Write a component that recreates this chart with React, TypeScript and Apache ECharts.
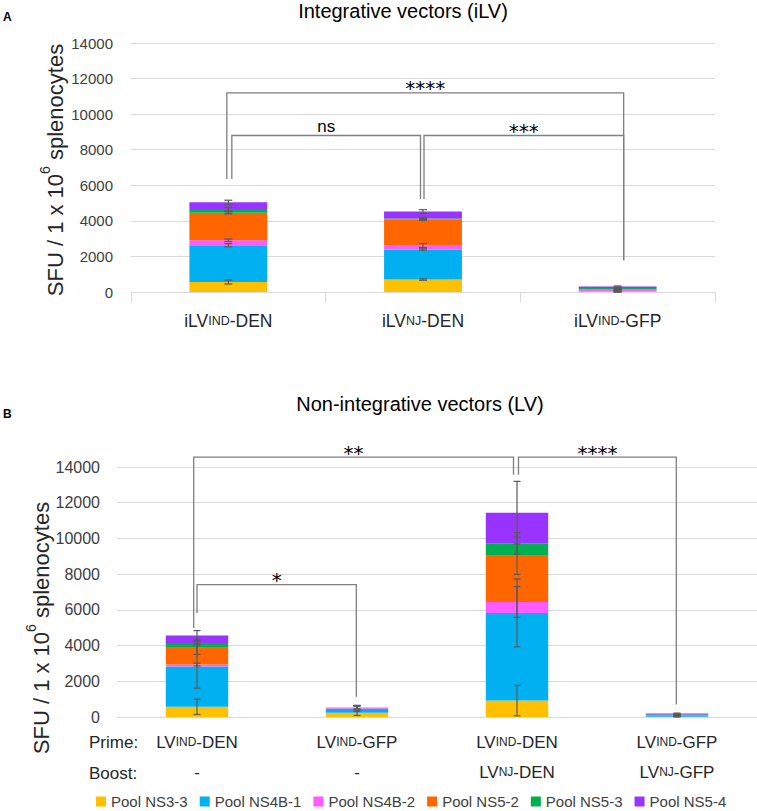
import React, { useEffect, useRef } from "react";
import * as echarts from "echarts";

const FONT = '"Liberation Sans", Arial, sans-serif';
const STAR_FONT = '"DejaVu Sans", sans-serif';

// ---------- data ----------
const seriesNames = ["Pool NS3-3", "Pool NS4B-1", "Pool NS4B-2", "Pool NS5-2", "Pool NS5-3", "Pool NS5-4"];
const seriesColors = ["#FFC000", "#00B0F0", "#FF5CFF", "#FF6600", "#00B050", "#9933FF"];

// Panel A: integrative vectors
const topCategories = ["iLVIND-DEN", "iLVNJ-DEN", "iLVIND-GFP"];
const topNS33 = [560, 700, 10];
const topNS4B1 = [2070, 1690, 20];
const topNS4B2 = [280, 225, 100];
const topNS52 = [1540, 1465, 10];
const topNS53 = [210, 55, 80];
const topNS54 = [380, 395, 90];
const topErrNS33 = [110, 40, 30];
const topErrNS4B1 = [90, 40, 30];
const topErrNS4B2 = [70, 110, 30];
const topErrNS52 = [60, 60, 30];
const topErrNS53 = [100, 60, 30];
const topErrNS54 = [120, 100, 30];

// Panel B: non-integrative vectors
const bottomPrime = ["LVIND-DEN", "LVIND-GFP", "LVIND-DEN", "LVIND-GFP"];
const bottomBoost = ["-", "-", "LVNJ-DEN", "LVNJ-GFP"];
const botNS33 = [570, 235, 920, 10];
const botNS4B1 = [2255, 225, 4910, 50];
const botNS4B2 = [110, 75, 615, 10];
const botNS52 = [990, 0, 2590, 10];
const botNS53 = [225, 0, 690, 60];
const botNS54 = [410, 0, 1720, 50];
const botErrNS33 = [430, 150, 850, 30];
const botErrNS4B1 = [1210, 150, 1900, 30];
const botErrNS4B2 = [80, 120, 860, 30];
const botErrNS52 = [420, 100, 1050, 30];
const botErrNS53 = [60, 100, 600, 30];
const botErrNS54 = [280, 100, 1750, 30];

const yTicksMax = 14000;
const yTicksStep = 2000;

// significance brackets (category indices, values in SFU)
const topBrackets = [
  { label: "****", from: 0, to: 2, top: 11200, leftEnd: 6350, rightEnd: 1790 },
  { label: "ns", from: 0, to: 1, top: 8800, leftEnd: 6350, rightEnd: 5230 },
  { label: "***", from: 1, to: 2, top: 8800, leftEnd: 5230, rightEnd: 1790 },
];
const bottomBrackets = [
  { label: "**", from: 0, to: 2, top: 14550, leftEnd: 4990, rightEnd: 13570 },
  { label: "*", from: 0, to: 1, top: 7410, leftEnd: 5830, rightEnd: 1130 },
  { label: "****", from: 2, to: 3, top: 14550, leftEnd: 13570, rightEnd: 700 },
];

// ---------- rendering helpers ----------
const topBracketOffsets = [[-1.5, 6], [3.5, -2.5], [1, 6]];
const bottomBracketOffsets = [[-3.3, -3.5], [0, -0.7], [1.5, -0.7]];

function richLabel(s: string) {
  const m = s.match(/^(i?LV)(IND|NJ)(-.+)$/);
  if (!m) return `{m|${s}}`;
  return `{m|${m[1]}}{s|${m[2]}}{m|${m[3]}}`;
}

function cumulative(list: number[][]) {
  const out: number[][] = [];
  let run = list[0].map(() => 0);
  list.forEach((arr) => {
    run = run.map((v, i) => v + arr[i]);
    out.push(run.slice());
  });
  return out;
}

function errorData(values: number[][], errs: number[][]) {
  const cum = cumulative(values);
  const data: number[][] = [];
  cum.forEach((arr, s) => arr.forEach((v, c) => data.push([c, v, errs[s][c]])));
  return data;
}

function errRender(capHalf: number) {
  return (params: any, api: any) => {
    const x = api.value(0);
    const v = api.value(1);
    const e = api.value(2);
    const top = api.coord([x, v + e]);
    const bot = api.coord([x, Math.max(0, v - e)]);
    const style = { stroke: "#595959", lineWidth: 1.2 };
    return {
      type: "group",
      children: [
        { type: "line", shape: { x1: top[0], y1: top[1], x2: bot[0], y2: bot[1] }, style },
        { type: "line", shape: { x1: top[0] - capHalf, y1: top[1], x2: top[0] + capHalf, y2: top[1] }, style },
        { type: "line", shape: { x1: bot[0] - capHalf, y1: bot[1], x2: bot[0] + capHalf, y2: bot[1] }, style },
      ],
    };
  };
}

function bracketRender(brackets: any[], offsets: number[][]) {
  return (params: any, api: any) => {
    const b = brackets[params.dataIndex];
    const off = offsets[params.dataIndex];
    const pL = api.coord([b.from, b.top]);
    const pR = api.coord([b.to, b.top]);
    const xL = pL[0] + off[0];
    const xR = pR[0] + off[1];
    const yT = pL[1];
    const yLe = api.coord([b.from, b.leftEnd])[1];
    const yRe = api.coord([b.to, b.rightEnd])[1];
    const isStar = b.label.indexOf("*") >= 0;
    return {
      type: "group",
      children: [
        {
          type: "polyline",
          shape: { points: [[xL, yLe], [xL, yT], [xR, yT], [xR, yRe]] },
          style: { stroke: "#7f7f7f", lineWidth: 1.3, fill: "none" },
        },
        {
          type: "text",
          x: (xL + xR) / 2,
          y: yT - (isStar ? 4.5 : 9),
          style: {
            text: b.label,
            fontSize: isStar ? 20 : 17,
            fontFamily: isStar ? STAR_FONT : FONT,
            fill: "#000",
            align: "center",
            verticalAlign: "middle",
          },
        },
      ],
    };
  };
}

export default function App() {
  const ref = useRef<HTMLDivElement>(null);

  useEffect(() => {
    if (!ref.current) return;
    const chart = echarts.init(ref.current, undefined, { renderer: "svg" });

    const topValues = [topNS33, topNS4B1, topNS4B2, topNS52, topNS53, topNS54];
    const topErrs = [topErrNS33, topErrNS4B1, topErrNS4B2, topErrNS52, topErrNS53, topErrNS54];
    const botValues = [botNS33, botNS4B1, botNS4B2, botNS52, botNS53, botNS54];
    const botErrs = [botErrNS33, botErrNS4B1, botErrNS4B2, botErrNS52, botErrNS53, botErrNS54];
    const bottomCategories = bottomPrime.map((p, i) => p + "\n" + bottomBoost[i]);

    const yAxisBase = (fontSize: number, margin: number) => ({
      type: "value",
      min: 0,
      max: yTicksMax,
      interval: yTicksStep,
      axisLine: { show: false },
      axisTick: { show: false },
      axisLabel: { fontSize, fontFamily: FONT, color: "#404040", margin, formatter: (v: number) => String(v) },
      splitLine: { lineStyle: { color: "#d9d9d9", width: 1 } },
    });

    const barSeries: any[] = [];
    seriesNames.forEach((name, s) => {
      barSeries.push({
        type: "bar",
        name,
        stack: "top",
        xAxisIndex: 0,
        yAxisIndex: 0,
        barWidth: "40%",
        itemStyle: { color: seriesColors[s] },
        data: topValues[s],
      });
    });
    seriesNames.forEach((name, s) => {
      barSeries.push({
        type: "bar",
        name,
        stack: "bottom",
        xAxisIndex: 1,
        yAxisIndex: 1,
        barWidth: "39%",
        itemStyle: { color: seriesColors[s] },
        data: botValues[s],
      });
    });

    const richAxis = (size: number, small: number, lh: number) => ({
      m: { fontSize: size, fontFamily: FONT, color: "#262626", lineHeight: lh, verticalAlign: "middle" },
      s: { fontSize: small, fontFamily: FONT, color: "#262626", lineHeight: lh, verticalAlign: "middle" },
    });

    const yTitleRich = {
      a: { fontSize: 22, fontFamily: FONT, fill: "#262626", lineHeight: 28, verticalAlign: "bottom" },
      b: { fontSize: 14, fontFamily: FONT, fill: "#262626", verticalAlign: "top" },
    };

    chart.setOption({
      animation: false,
      backgroundColor: "#ffffff",
      grid: [
        { left: 131, top: 43, width: 584, height: 249 },
        { left: 117, top: 467, width: 640, height: 250 },
      ],
      xAxis: [
        {
          type: "category",
          gridIndex: 0,
          data: topCategories,
          axisLine: { lineStyle: { color: "#d9d9d9" } },
          axisTick: { show: true, length: 10, lineStyle: { color: "#d9d9d9" } },
          axisLabel: { interval: 0, margin: 19, formatter: (v: string) => richLabel(v), rich: richAxis(17.5, 12.5, 20) },
        },
        {
          type: "category",
          gridIndex: 1,
          data: bottomCategories,
          axisLine: { lineStyle: { color: "#d9d9d9" } },
          axisTick: { show: false },
          axisLabel: {
            interval: 0,
            margin: 10,
            formatter: (v: string) => v.split("\n").map(richLabel).join("\n"),
            rich: richAxis(17, 12, 30),
          },
        },
      ],
      yAxis: [
        { ...yAxisBase(15, 18), gridIndex: 0 },
        { ...yAxisBase(16, 17), gridIndex: 1 },
      ],
      legend: {
        data: seriesNames,
        left: 96,
        top: 794,
        padding: 0,
        itemWidth: 10,
        itemHeight: 10,
        itemGap: 12,
        icon: "rect",
        textStyle: { fontSize: 15, fontFamily: FONT, color: "#404040" },
      },
      graphic: [
        { type: "text", x: 403, y: 11, style: { text: "Integrative vectors (iLV)", fontSize: 20, fontFamily: FONT, fill: "#000", align: "center", verticalAlign: "middle" } },
        { type: "text", x: 420, y: 404, style: { text: "Non-integrative vectors (LV)", fontSize: 20, fontFamily: FONT, fill: "#000", align: "center", verticalAlign: "middle" } },
        { type: "text", x: 3, y: 17, style: { text: "A", fontSize: 12, fontWeight: "bold", fontFamily: FONT, fill: "#000", align: "left", verticalAlign: "middle" } },
        { type: "text", x: 3, y: 414, style: { text: "B", fontSize: 12, fontWeight: "bold", fontFamily: FONT, fill: "#000", align: "left", verticalAlign: "middle" } },
        { type: "text", x: 89, y: 742, style: { text: "Prime:", fontSize: 17, fontFamily: FONT, fill: "#262626", align: "left", verticalAlign: "middle" } },
        { type: "text", x: 89, y: 773, style: { text: "Boost:", fontSize: 17, fontFamily: FONT, fill: "#262626", align: "left", verticalAlign: "middle" } },
        {
          type: "text", x: 52, y: 170, rotation: Math.PI / 2,
          style: { text: "{a|SFU / 1 x 10}{b|6}{a| splenocytes}", rich: yTitleRich, align: "center", verticalAlign: "middle" },
        },
        {
          type: "text", x: 38, y: 628, rotation: Math.PI / 2,
          style: { text: "{a|SFU / 1 x 10}{b|6}{a| splenocytes}", rich: yTitleRich, align: "center", verticalAlign: "middle" },
        },
      ],
      series: [
        ...barSeries,
        {
          type: "custom",
          name: "errA",
          xAxisIndex: 0,
          yAxisIndex: 0,
          z: 5,
          renderItem: errRender(4),
          data: errorData(topValues, topErrs),
        },
        {
          type: "custom",
          name: "errB",
          xAxisIndex: 1,
          yAxisIndex: 1,
          z: 5,
          renderItem: errRender(3.5),
          data: errorData(botValues, botErrs),
        },
        {
          type: "custom",
          name: "sigA",
          xAxisIndex: 0,
          yAxisIndex: 0,
          z: 6,
          clip: false,
          renderItem: bracketRender(topBrackets, topBracketOffsets),
          data: topBrackets.map((b) => [b.from, b.top]),
        },
        {
          type: "custom",
          name: "sigB",
          xAxisIndex: 1,
          yAxisIndex: 1,
          z: 6,
          clip: false,
          renderItem: bracketRender(bottomBrackets, bottomBracketOffsets),
          data: bottomBrackets.map((b) => [b.from, b.top]),
        },
      ],
    });

    return () => chart.dispose();
  }, []);

  return (
    <div
      ref={ref}
      style={{ position: "absolute", left: 0, top: 0, width: 757, height: 811, background: "#fff" }}
    />
  );
}
